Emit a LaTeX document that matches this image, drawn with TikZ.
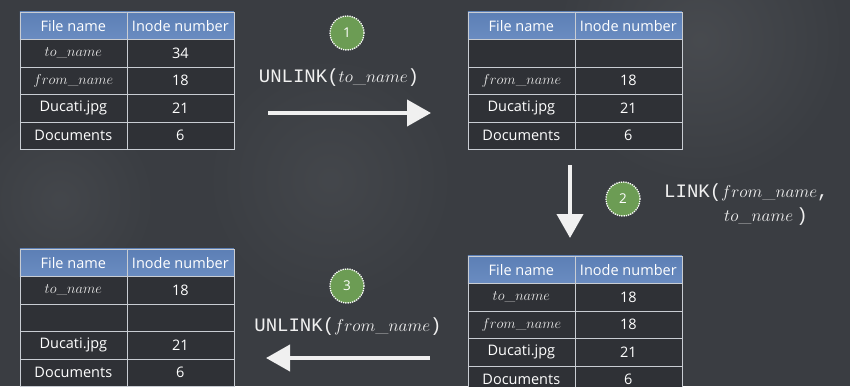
\documentclass[tikz,border=0pt]{standalone}
\usepackage{fontspec}
\newfontfamily\chalk{Open Sans}
\newfontfamily\monofont{Liberation Mono}
\usetikzlibrary{arrows.meta,matrix}

\definecolor{board}{HTML}{3A3D42}
\definecolor{cell}{HTML}{2F3136}
\definecolor{headtop}{HTML}{5C7FB5}
\definecolor{headbot}{HTML}{6A8CC1}
\definecolor{grid}{HTML}{C9CDD3}
\definecolor{stepgreen}{HTML}{6C9C54}
\definecolor{chalkwhite}{HTML}{F0F0F0}

% underscore taken from the roman text font inside math names
\newcommand\usc{\mbox{\normalfont\_}}

\tikzset{
  ftable/.style={matrix of nodes, nodes in empty cells,
    column sep=-0.6pt, row sep=-0.6pt,
    nodes={draw=grid, line width=0.6pt, fill=cell,
      minimum width=107pt, minimum height=27.5pt, inner sep=0pt,
      text=white, font=\chalk\fontsize{14.5}{16}\selectfont, anchor=center},
    row 1/.style={nodes={top color=headtop, bottom color=headbot}}},
  nm/.style={font=\rmfamily\fontsize{14.5}{16}\selectfont, text=white!82!gray},
  stepnum/.style={circle, fill=stepgreen, draw=white, densely dotted,
    line width=1.3pt, minimum size=34pt, inner sep=0pt, text=white,
    font=\chalk\fontsize{13.5}{15}\selectfont},
  call/.style={text=chalkwhite, font=\monofont\fontsize{19}{22}\selectfont, inner sep=0pt},
  chalkarrow/.style={draw=chalkwhite, line width=4pt,
    -{Triangle[length=24pt,width=26pt]}},
}

\begin{document}
\begin{tikzpicture}[x=1pt,y=-1pt]
  % chalkboard
  \fill[board] (0,0) rectangle (850,386);
  \useasboundingbox (0,0) rectangle (850,386);
  \shade[inner color=white, outer color=board, opacity=0.07] (700,40) circle (150);
  \shade[inner color=white, outer color=board, opacity=0.05] (330,180) circle (130);
  \shade[inner color=white, outer color=board, opacity=0.05] (60,200) circle (100);

  % directory before step 1
  \matrix[ftable, anchor=north west] (t1) at (16,8) {
    File name & Inode number \\
    |[nm]| $to\usc name$ & 34 \\
    |[nm]| $from\usc name$ & 18 \\
    Ducati.jpg & 21 \\
    Documents & 6 \\
  };
  % after unlink(to_name)
  \matrix[ftable, anchor=north west] (t2) at (464,8) {
    File name & Inode number \\
    & \\
    |[nm]| $from\usc name$ & 18 \\
    Ducati.jpg & 21 \\
    Documents & 6 \\
  };
  % after link(from_name, to_name)
  \matrix[ftable, anchor=north west] (t4) at (464,252) {
    File name & Inode number \\
    |[nm]| $to\usc name$ & 18 \\
    |[nm]| $from\usc name$ & 18 \\
    Ducati.jpg & 21 \\
    Documents & 6 \\
  };
  % after unlink(from_name)
  \matrix[ftable, anchor=north west] (t3) at (16,245) {
    File name & Inode number \\
    |[nm]| $to\usc name$ & 18 \\
    & \\
    Ducati.jpg & 21 \\
    Documents & 6 \\
  };

  % step 1
  \node[stepnum] (s1) at (347,33) {1};
  \node[call] (c1) at (339,78) {UNLINK($to\usc name$)};
  \coordinate (a1s) at (268,113);
  \coordinate (a1e) at (431,113);
  \draw[chalkarrow] (a1s) -- (a1e);

  % step 2
  \node[stepnum] (s2) at (623,199) {2};
  \node[call, anchor=west] (c2a) at (664,193) {LINK($from\usc name$,};
  \node[call, anchor=west] (c2b) at (724,217) {$to\usc name$\,)};
  \coordinate (a2s) at (570,165);
  \coordinate (a2e) at (570,238);
  \draw[chalkarrow] (a2s) -- (a2e);

  % step 3
  \node[stepnum] (s3) at (347,286) {3};
  \node[call] (c3) at (348,327) {UNLINK($from\usc name$)};
  \coordinate (a3s) at (430,358);
  \coordinate (a3e) at (266,358);
  \draw[chalkarrow] (a3s) -- (a3e);
\end{tikzpicture}
\end{document}
